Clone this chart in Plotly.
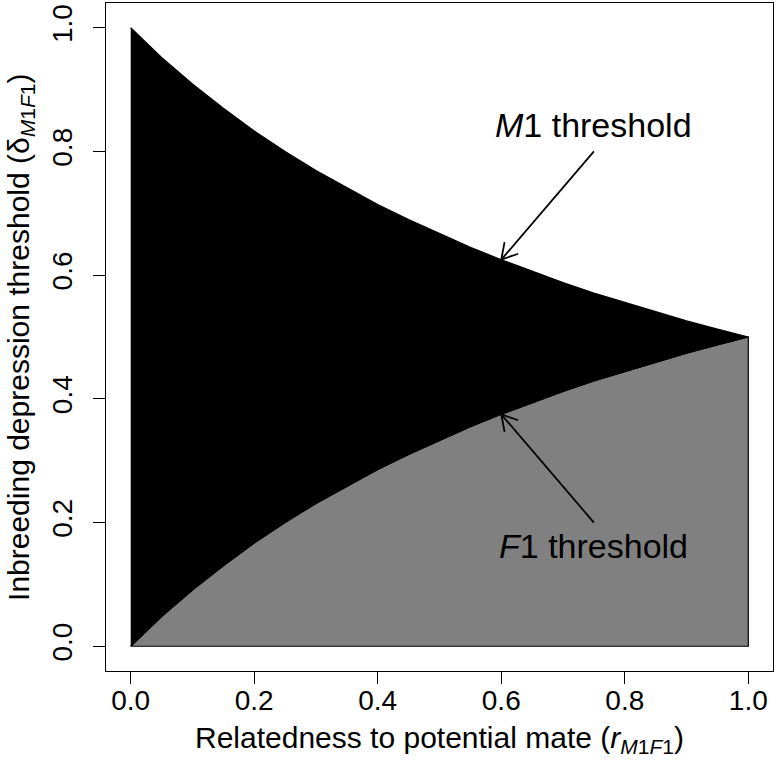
import math
import plotly.graph_objects as go

# Relatedness to potential mate (x values)
r_vals = [0.00, 0.05, 0.10, 0.15, 0.20, 0.25, 0.30, 0.35, 0.40, 0.45, 0.50,
          0.55, 0.60, 0.65, 0.70, 0.75, 0.80, 0.85, 0.90, 0.95, 1.00]
# M1 threshold curve (upper boundary of black region)
m1_thresh = [1.000, 0.952, 0.909, 0.870, 0.833, 0.800, 0.769, 0.741, 0.714, 0.690, 0.667,
             0.645, 0.625, 0.606, 0.588, 0.571, 0.556, 0.541, 0.526, 0.513, 0.500]
# F1 threshold curve (lower boundary of black region / top of grey region)
f1_thresh = [0.000, 0.048, 0.091, 0.130, 0.167, 0.200, 0.231, 0.259, 0.286, 0.310, 0.333,
             0.355, 0.375, 0.394, 0.412, 0.429, 0.444, 0.459, 0.474, 0.487, 0.500]

tick_vals = [0.0, 0.2, 0.4, 0.6, 0.8, 1.0]
tick_text = ["0.0", "0.2", "0.4", "0.6", "0.8", "1.0"]

# annotation labels: (text, text position, arrow tail, arrow tip)
labels = ["<i>M</i>1 threshold", "<i>F</i>1 threshold"]
label_pos = [(0.75, 0.842), (0.75, 0.162)]
arrow_tail = [(0.75, 0.80), (0.75, 0.20)]
arrow_tip = [(0.60, 0.625), (0.60, 0.375)]

FONT = "Liberation Sans, Arial, Helvetica, sans-serif"
GREY = "#808080"

fig = go.Figure()

# grey region under F1 threshold
fig.add_trace(go.Scatter(
    x=r_vals + [r_vals[-1], r_vals[0]],
    y=f1_thresh + [0.0, 0.0],
    fill="toself", fillcolor=GREY, mode="lines",
    line=dict(color="black", width=1.2), hoverinfo="skip", showlegend=False))

# black region between F1 and M1 thresholds
fig.add_trace(go.Scatter(
    x=r_vals + r_vals[::-1],
    y=m1_thresh + f1_thresh[::-1],
    fill="toself", fillcolor="black", mode="lines",
    line=dict(color="black", width=1.2), hoverinfo="skip", showlegend=False))

shapes = []
head_len = 0.029
for (tx, ty), (hx, hy) in zip(arrow_tail, arrow_tip):
    shapes.append(dict(type="line", xref="x", yref="y", x0=tx, y0=ty, x1=hx, y1=hy,
                       line=dict(color="black", width=1.8)))
    ang = math.atan2(ty - hy, tx - hx)
    for d in (math.radians(30), -math.radians(30)):
        shapes.append(dict(type="line", xref="x", yref="y", x0=hx, y0=hy,
                           x1=hx + head_len * math.cos(ang + d),
                           y1=hy + head_len * math.sin(ang + d),
                           line=dict(color="black", width=1.8)))

annotations = []
for txt, (lx, ly) in zip(labels, label_pos):
    annotations.append(dict(x=lx, y=ly, xref="x", yref="y", text=txt, showarrow=False,
                            xanchor="center", yanchor="middle",
                            font=dict(family=FONT, size=34, color="black")))

# axis titles
annotations.append(dict(x=0.5, y=-0.103, xref="paper", yref="paper",
                        text="Relatedness to potential mate (<i>r</i><sub><i>M</i>1<i>F</i>1</sub>)",
                        showarrow=False, xanchor="center", yanchor="middle",
                        font=dict(family=FONT, size=30, color="black")))
annotations.append(dict(x=-0.129, y=0.5, xref="paper", yref="paper", textangle=-90,
                        text="Inbreeding depression threshold (δ<sub><i>M</i>1<i>F</i>1</sub>)",
                        showarrow=False, xanchor="center", yanchor="middle",
                        font=dict(family=FONT, size=30, color="black")))

axis_common = dict(range=[-0.04, 1.04], tickvals=tick_vals, ticktext=tick_text,
                   showgrid=False, zeroline=False, showline=True, mirror=True,
                   linecolor="black", linewidth=1.3, ticks="outside", ticklen=12,
                   tickwidth=1.3, tickcolor="black",
                   tickfont=dict(family=FONT, size=28, color="black"))

fig.update_layout(
    width=777, height=763,
    margin=dict(l=106, r=4, t=3, b=92),
    paper_bgcolor="white", plot_bgcolor="white",
    xaxis=dict(**axis_common, ticklabelstandoff=-8),
    yaxis=dict(**axis_common, tickangle=-90, ticklabelstandoff=10),
    shapes=shapes, annotations=annotations,
    showlegend=False,
)

fig.write_html("out.html",
               config={"displayModeBar": False},
               post_script="document.body.style.margin='0';document.body.style.overflow='hidden';")
